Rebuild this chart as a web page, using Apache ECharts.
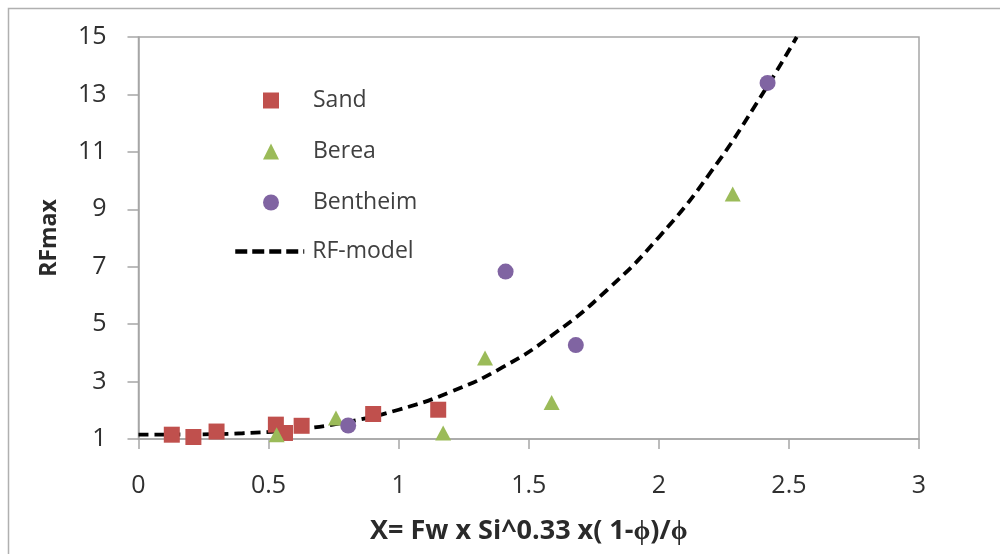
<!DOCTYPE html>
<html>
<head>
<meta charset="utf-8">
<script src="https://cdn.jsdelivr.net/npm/echarts@6/dist/echarts.min.js"></script>
<style>html,body{margin:0;padding:0;background:#fff;}#c{width:1000px;height:554px;}</style>
</head>
<body>
<div id="c"></div>
<script>
const sandX = [0.128, 0.211, 0.300, 0.528, 0.563, 0.627, 0.902, 1.152];
const sandY = [1.15, 1.07, 1.26, 1.50, 1.21, 1.46, 1.87, 2.02];
const bereaX = [0.531, 0.759, 1.171, 1.332, 1.588, 2.284];
const bereaY = [1.15, 1.73, 1.21, 3.82, 2.27, 9.53];
const bentX = [0.806, 1.411, 1.681, 2.418];
const bentY = [1.47, 6.83, 4.27, 13.40];
const modelX = [0, 0.2, 0.4, 0.6, 0.8, 1.0, 1.2, 1.4, 1.6, 1.8, 2.0, 2.2, 2.4, 2.53];
const modelY = [1.15, 1.16, 1.20, 1.33, 1.59, 2.02, 2.64, 3.50, 4.68, 6.18, 8.03, 10.30, 13.04, 15.0];
const xTicks = {min: 0, max: 3, interval: 0.5};
const yTicks = {min: 1, max: 15, interval: 2};
const xName = 'X= Fw x Si^0.33 x( 1-\u03d5)/\u03d5';
const yName = 'RFmax';

const zip = (a, b) => a.map((v, i) => [v, b[i]]);
const FONT = 'Open Sans';
const axisGray = '#a6a6a6';
const chart = echarts.init(document.getElementById('c'), null, {renderer: 'canvas'});
chart.setOption({
  animation: false,
  backgroundColor: '#fff',
  textStyle: {fontFamily: FONT},
  graphic: [{
    type: 'rect', silent: true, z: -1,
    shape: {x: 8.5, y: 8.5, width: 1010, height: 570},
    style: {fill: 'none', stroke: '#b0b0b0', lineWidth: 1.5}
  }],
  grid: {left: 138.5, right: 81, top: 37, bottom: 115, show: true, borderColor: axisGray, borderWidth: 1.5, backgroundColor: 'transparent'},
  legend: [{
    data: ['Sand', 'Berea', 'Bentheim'],
    orient: 'vertical', left: 258, top: 84,
    itemWidth: 16, itemHeight: 16, itemGap: 28,
    textStyle: {fontFamily: FONT, fontSize: 23, color: '#404040', padding: [0, 0, 0, 29]}
  }, {
    data: [{name: 'RF-model', itemStyle: {opacity: 0, color: 'rgba(0,0,0,0)', borderWidth: 0}}],
    orient: 'vertical', left: 228, top: 235,
    itemWidth: 69, itemHeight: 16,
    lineStyle: {width: 4.5, type: [12, 5], color: '#000'},
    textStyle: {fontFamily: FONT, fontSize: 23, color: '#404040', padding: [0, 0, 0, 3]}
  }],
  xAxis: {
    type: 'value', min: xTicks.min, max: xTicks.max, interval: xTicks.interval,
    name: xName, nameLocation: 'middle', nameGap: 79,
    nameTextStyle: {fontFamily: FONT, fontSize: 27, fontWeight: 'bold', color: '#2a2a2a'},
    axisLine: {show: true, lineStyle: {color: axisGray, width: 1.5}},
    axisTick: {show: true, length: 10, lineStyle: {color: axisGray, width: 1.5}},
    axisLabel: {fontFamily: FONT, fontSize: 25, color: '#303030', margin: 34},
    splitLine: {show: false}
  },
  yAxis: {
    type: 'value', min: yTicks.min, max: yTicks.max, interval: yTicks.interval,
    name: yName, nameLocation: 'middle', nameGap: 78, nameRotate: 90,
    nameTextStyle: {fontFamily: FONT, fontSize: 23, fontWeight: 'bold', color: '#2a2a2a'},
    axisLine: {show: true, lineStyle: {color: axisGray, width: 1.5}},
    axisTick: {show: true, length: 11, lineStyle: {color: axisGray, width: 1.5}},
    axisLabel: {fontFamily: FONT, fontSize: 25, color: '#303030', margin: 32},
    splitLine: {show: false}
  },
  series: [{
    name: 'RF-model', type: 'line', data: zip(modelX, modelY), smooth: true,
    symbol: 'none', showSymbol: false, z: 1,
    lineStyle: {color: '#000', width: 3.8, type: [10, 6]},
    itemStyle: {color: '#000'}
  }, {
    name: 'Sand', type: 'scatter', data: zip(sandX, sandY), symbol: 'rect', symbolSize: 16, z: 3,
    itemStyle: {color: '#C0504D', opacity: 1}
  }, {
    name: 'Berea', type: 'scatter', data: zip(bereaX, bereaY), symbol: 'triangle', symbolSize: [16, 15], z: 3,
    itemStyle: {color: '#9BBB59', opacity: 1}
  }, {
    name: 'Bentheim', type: 'scatter', data: zip(bentX, bentY), symbol: 'circle', symbolSize: 16, z: 3,
    itemStyle: {color: '#8064A2', opacity: 1}
  }]
});
</script>
</body>
</html>
